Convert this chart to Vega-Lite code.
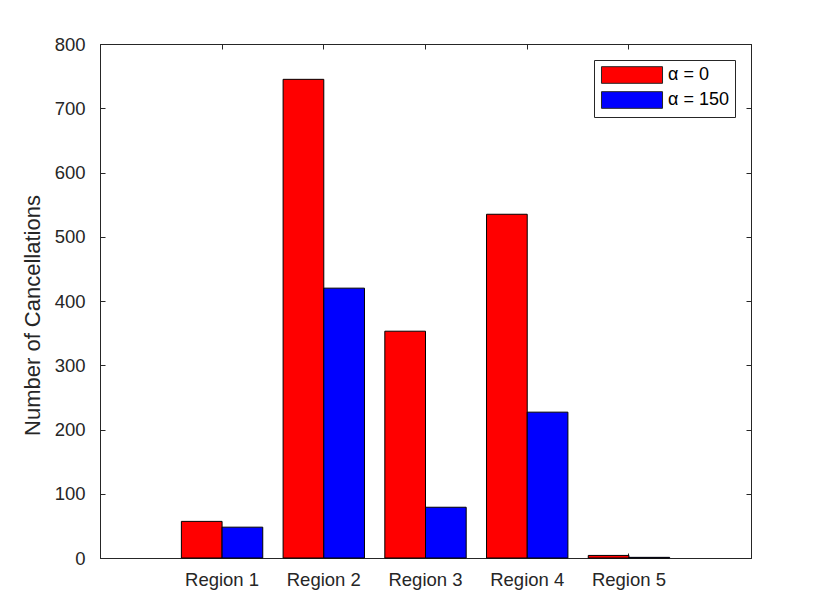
{
  "$schema": "https://vega.github.io/schema/vega-lite/v6.json",
  "width": 651,
  "height": 514,
  "autosize": "none",
  "padding": {"left": 100, "top": 44, "right": 79, "bottom": 37},
  "background": "white",
  "config": {
    "font": "Liberation Sans",
    "view": {"stroke": "#262626", "strokeWidth": 1},
    "axis": {
      "grid": false,
      "domainColor": "#262626",
      "tickColor": "#262626",
      "labelColor": "#262626",
      "titleColor": "#262626",
      "labelFont": "Liberation Sans",
      "titleFont": "Liberation Sans",
      "labelFontSize": 18.5,
      "titleFontSize": 22,
      "titleFontWeight": "normal",
      "labelOverlap": false,
      "tickSize": -5
    },
    "legend": {
      "labelFont": "Liberation Sans"
    }
  },
  "data": {
    "values": [
      {"region": "Region 1", "alpha": "α = 0", "count": 57},
      {"region": "Region 1", "alpha": "α = 150", "count": 48},
      {"region": "Region 2", "alpha": "α = 0", "count": 745},
      {"region": "Region 2", "alpha": "α = 150", "count": 420},
      {"region": "Region 3", "alpha": "α = 0", "count": 353},
      {"region": "Region 3", "alpha": "α = 150", "count": 79},
      {"region": "Region 4", "alpha": "α = 0", "count": 535},
      {"region": "Region 4", "alpha": "α = 150", "count": 227},
      {"region": "Region 5", "alpha": "α = 0", "count": 4},
      {"region": "Region 5", "alpha": "α = 150", "count": 1}
    ]
  },
  "layer": [
    {
      "mark": {"type": "bar", "stroke": "black", "strokeWidth": 1},
      "encoding": {
        "x": {
          "field": "region",
          "type": "nominal",
          "scale": {"paddingInner": 0.2, "paddingOuter": 0.8},
          "axis": {"title": null, "labelAngle": 0, "labelPadding": 17, "orient": "bottom"}
        },
        "xOffset": {"field": "alpha", "type": "nominal", "sort": ["α = 0", "α = 150"]},
        "y": {
          "field": "count",
          "type": "quantitative",
          "scale": {"domain": [0, 800], "nice": false},
          "axis": {"title": "Number of Cancellations", "values": [0,100,200,300,400,500,600,700,800], "labelPadding": 20, "titlePadding": 10, "titleY": 271, "orient": "left"}
        },
        "color": {
          "field": "alpha",
          "type": "nominal",
          "scale": {"domain": ["α = 0", "α = 150"], "range": ["#FF0000", "#0000FF"]},
          "legend": {
            "title": null,
            "orient": "top-right",
            "offset": 16,
            "fillColor": "white",
            "strokeColor": "#262626",
            "padding": 6,
            "symbolType": "M-0.94,-1.04H6.69V1.04H-0.94Z",
            "symbolSize": 256,
            "symbolStrokeColor": "#262626",
            "symbolStrokeWidth": 1,
            "symbolOpacity": 1,
            "labelOffset": 50,
            "labelFontSize": 18,
            "labelColor": "#000000",
            "rowPadding": 3
          }
        }
      }
    },
    {
      "mark": {"type": "bar", "opacity": 0},
      "encoding": {
        "x": {
          "field": "region",
          "type": "nominal",
          "axis": {"title": null, "labels": false, "orient": "top"}
        },
        "y": {
          "field": "count",
          "type": "quantitative",
          "axis": {"title": null, "labels": false, "values": [0,100,200,300,400,500,600,700,800], "orient": "right"}
        }
      }
    }
  ],
  "resolve": {"axis": {"x": "independent", "y": "independent"}}
}
